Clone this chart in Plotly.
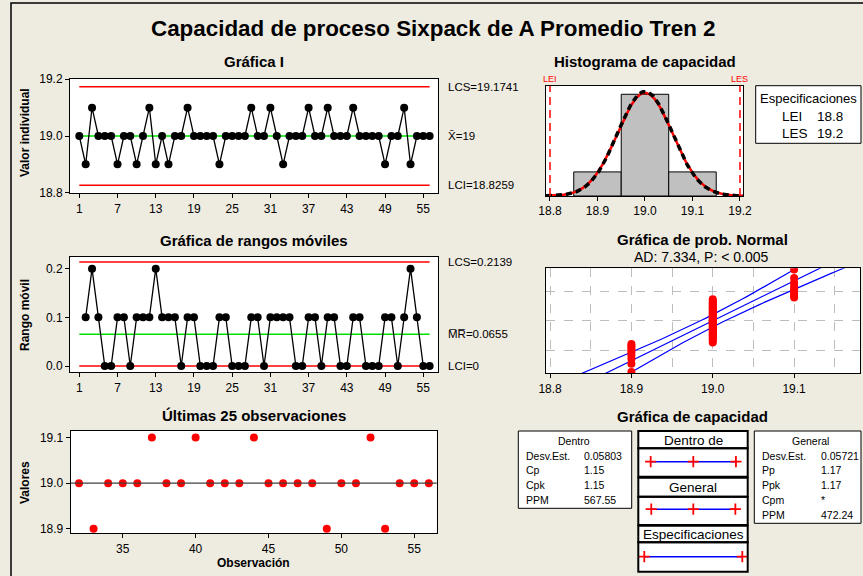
import numpy as np
import plotly.graph_objects as go
from statistics import NormalDist

W, H = 863, 576
FONT = "Liberation Sans, Arial, sans-serif"
BG = "#EEEBE0"

# ---------------- data ----------------
observation = list(range(1, 57))
values = [19.0, 18.9, 19.1, 19.0, 19.0, 19.0, 18.9, 19.0, 19.0, 18.9,
          19.0, 19.1, 18.9, 19.0, 18.9, 19.0, 19.0, 19.1, 19.0, 19.0,
          19.0, 19.0, 18.9, 19.0, 19.0, 19.0, 19.0, 19.1, 19.0, 19.0,
          19.1, 19.0, 18.9, 19.0, 19.0, 19.0, 19.1, 19.0, 19.0, 19.1,
          19.0, 19.0, 19.0, 19.1, 19.0, 19.0, 19.0, 19.0, 18.9, 19.0,
          19.0, 19.1, 18.9, 19.0, 19.0, 19.0]
LEI, LES = 18.8, 19.2
hist_bin_edges = [18.85, 18.95, 19.05, 19.15]
i_ticks = [1, 7, 13, 19, 25, 31, 37, 43, 49, 55]
i_yticks = [18.8, 19.0, 19.2]
mr_yticks = [0.0, 0.1, 0.2]
last_xticks = [35, 40, 45, 50, 55]
last_yticks = [18.9, 19.0, 19.1]
hist_ticks = [18.8, 18.9, 19.0, 19.1, 19.2]
prob_ticks = [18.8, 18.9, 19.0, 19.1]
prob_grid_pct = [0.1, 0.5, 0.9]
i_limit_labels = ["LCS=19.1741", "X\u0304=19", "LCI=18.8259"]
mr_limit_labels = ["LCS=0.2139", "M\u0305R\u0305=0.0655", "LCI=0"]
ad_text = "AD: 7.334, P: < 0.005"
within_labels = ["Desv.Est.", "Cp", "Cpk", "PPM"]
within_values = ["0.05803", "1.15", "1.15", "567.55"]
overall_labels = ["Desv.Est.", "Pp", "Ppk", "Cpm", "PPM"]
overall_values = ["0.05721", "1.17", "1.17", "*", "472.24"]

# ---------------- statistics ----------------
x = np.array(values)
n = len(x)
mean = x.mean()
mr = np.round(np.abs(np.diff(x)), 4)
mr_obs = observation[1:]
mr_bar = mr.mean()
sigma_w = mr_bar / 1.128379
sigma_o = x.std(ddof=1)
ucl = mean + 3 * sigma_w
lcl = mean - 3 * sigma_w
ucl_mr = 3.2665 * mr_bar
counts, edges = np.histogram(x, bins=hist_bin_edges)
centers = (edges[:-1] + edges[1:]) / 2
bw = edges[1] - edges[0]
nd = NormalDist()


def px_dom_x(a, b):
    return [a / W, b / W]


def px_dom_y(top, bottom):
    return [1 - bottom / H, 1 - top / H]


def ann(text, px, py, size, bold=False, xanchor="center", color="black", **kw):
    if bold:
        text = "<b>" + text + "</b>"
    d = dict(xref="paper", yref="paper", x=px / W, y=1 - py / H, text=text,
             showarrow=False, xanchor=xanchor, yanchor="middle",
             font=dict(family=FONT, size=size, color=color))
    d.update(kw)
    return d


def box_axis(dom, rng, **kw):
    d = dict(domain=dom, range=rng, showline=True, mirror=True, linecolor="black",
             linewidth=1, ticks="outside", ticklen=4, tickcolor="black", tickwidth=1,
             tickfont=dict(family=FONT, size=12, color="black"), zeroline=False,
             showgrid=False, fixedrange=True, automargin=False)
    d.update(kw)
    return d


fig = go.Figure()
BLACK = "black"
RED = "#FF0000"
GREEN = "#00E000"
BLUE = "#0000FF"

# ---------- I chart ----------
xl = [observation[0], observation[-1]]
fig.add_trace(go.Scatter(x=xl, y=[ucl, ucl], mode="lines", line=dict(color=RED, width=1.5), xaxis="x", yaxis="y"))
fig.add_trace(go.Scatter(x=xl, y=[lcl, lcl], mode="lines", line=dict(color=RED, width=1.5), xaxis="x", yaxis="y"))
fig.add_trace(go.Scatter(x=xl, y=[mean, mean], mode="lines", line=dict(color=GREEN, width=1.5), xaxis="x", yaxis="y"))
fig.add_trace(go.Scatter(x=observation, y=values, mode="lines+markers",
                         line=dict(color=BLACK, width=1.3), marker=dict(color=BLACK, size=8),
                         xaxis="x", yaxis="y"))

# ---------- MR chart ----------
fig.add_trace(go.Scatter(x=xl, y=[ucl_mr, ucl_mr], mode="lines", line=dict(color=RED, width=1.5), xaxis="x2", yaxis="y2"))
fig.add_trace(go.Scatter(x=xl, y=[0, 0], mode="lines", line=dict(color=RED, width=1.5), xaxis="x2", yaxis="y2"))
fig.add_trace(go.Scatter(x=xl, y=[mr_bar, mr_bar], mode="lines", line=dict(color=GREEN, width=1.5), xaxis="x2", yaxis="y2"))
fig.add_trace(go.Scatter(x=mr_obs, y=mr, mode="lines+markers",
                         line=dict(color=BLACK, width=1.3), marker=dict(color=BLACK, size=8),
                         xaxis="x2", yaxis="y2"))

# ---------- Last 25 ----------
fig.add_trace(go.Scatter(x=observation[-25:], y=values[-25:], mode="markers",
                         marker=dict(color=RED, size=8), xaxis="x3", yaxis="y3"))

# ---------- Histogram ----------
fig.add_trace(go.Bar(x=centers, y=counts, width=bw, marker=dict(color="#C0C0C0", line=dict(color=BLACK, width=1)),
                     xaxis="x4", yaxis="y4"))
hx_range = [18.7916, 19.207]
cx = np.linspace(hx_range[0], hx_range[1], 200)
pdf_w = np.array([NormalDist(mean, sigma_w).pdf(v) for v in cx]) * n * bw
pdf_o = np.array([NormalDist(mean, sigma_o).pdf(v) for v in cx]) * n * bw
fig.add_trace(go.Scatter(x=cx, y=pdf_w, mode="lines", line=dict(color=RED, width=2.5), xaxis="x4", yaxis="y4"))
fig.add_trace(go.Scatter(x=cx, y=pdf_o, mode="lines", line=dict(color=BLACK, width=3.5, dash="6px,4px"),
                         xaxis="x4", yaxis="y4"))

# ---------- Normal probability plot ----------
zr = [-2.3, 2.3]
xs = np.sort(x)
zs = [nd.inv_cdf((i - 0.3) / (n + 0.4)) for i in range(1, n + 1)]
zl = np.linspace(zr[0] - 0.2, zr[1] + 0.2, 60)
fit = mean + sigma_o * zl
half = 1.96 * sigma_o * np.sqrt(1 / n + zl ** 2 / (2 * (n - 1)))
for yy in (fit - half, fit, fit + half):
    fig.add_trace(go.Scatter(x=yy, y=zl, mode="lines", line=dict(color=BLUE, width=1.2), xaxis="x5", yaxis="y5"))
fig.add_trace(go.Scatter(x=xs, y=zs, mode="markers", marker=dict(color=RED, size=8), xaxis="x5", yaxis="y5"))

# ---------- Capability plot ----------
cross = dict(symbol="cross-thin-open", size=8, line=dict(color=RED, width=1.8), color=RED)
rows = [
    (2, [mean - 3 * sigma_w, mean, mean + 3 * sigma_w]),
    (1, [mean - 3 * sigma_o, mean, mean + 3 * sigma_o]),
    (0, [LEI, LES]),
]
for r, xv in rows:
    fig.add_trace(go.Scatter(x=xv, y=[r] * len(xv), mode="lines+markers", line=dict(color=BLUE, width=1.5),
                             marker=cross, xaxis="x6", yaxis="y6"))

# ---------------- layout ----------------
i_xrange = [-0.46, 57.36]
layout = dict(
    width=W, height=H, margin=dict(l=0, r=0, t=0, b=0, pad=0), autosize=False,
    paper_bgcolor=BG, plot_bgcolor="white", showlegend=False,
    font=dict(family=FONT, color="black"),
    xaxis=box_axis(px_dom_x(70, 438.3), i_xrange, tickvals=i_ticks, anchor="y"),
    yaxis=box_axis(px_dom_y(78.7, 193.3), [18.798, 19.202], tickvals=i_yticks, tickformat=".1f", anchor="x"),
    xaxis2=box_axis(px_dom_x(70, 438.3), i_xrange, tickvals=i_ticks, anchor="y2"),
    yaxis2=box_axis(px_dom_y(256.7, 372.3), [-0.0129, 0.2245], tickvals=mr_yticks, tickformat=".1f", anchor="x2"),
    xaxis3=box_axis(px_dom_x(70.7, 436.7), [31.43, 56.54], tickvals=last_xticks, anchor="y3"),
    yaxis3=box_axis(px_dom_y(430.7, 533.3), [18.89, 19.115], tickvals=last_yticks, tickformat=".1f", anchor="x3"),
    xaxis4=box_axis(px_dom_x(546, 743.3), hx_range, tickvals=hist_ticks, tickformat=".1f", anchor="y4"),
    yaxis4=box_axis(px_dom_y(85.7, 196), [0, 41.2], showticklabels=False, ticks="", anchor="x4"),
    xaxis5=box_axis(px_dom_x(546, 860), [18.795, 19.181], tickvals=prob_ticks, tickformat=".1f", anchor="y5",
                    showgrid=True, gridcolor="#BDBDBD", griddash="dash", gridwidth=1,
                    minor=dict(tick0=18.8, dtick=0.05, showgrid=True, gridcolor="#BDBDBD", griddash="dash", ticks="")),
    yaxis5=box_axis(px_dom_y(268.3, 373.3), zr, tickvals=[nd.inv_cdf(p) for p in prob_grid_pct],
                    showticklabels=False, ticks="", showgrid=True, gridcolor="#BDBDBD", griddash="dash",
                    anchor="x5"),
    xaxis6=dict(domain=px_dom_x(638.3, 747.7), range=[18.7755, 19.222], visible=False, anchor="y6",
                fixedrange=True, automargin=False),
    yaxis6=dict(domain=px_dom_y(431, 571.7), range=[-0.316, 2.646], visible=False, anchor="x6",
                fixedrange=True, automargin=False),
)

shapes = []
# outer frame
shapes.append(dict(type="rect", xref="paper", yref="paper", x0=11 / W, y0=-0.05, x1=1.05, y1=1 - 3 / H,
                   line=dict(color="black", width=1.5)))
# last-25 centre line
shapes.append(dict(type="line", xref="x3 domain", yref="y3", x0=0, x1=1, y0=mean, y1=mean,
                   line=dict(color="#404040", width=1.2)))
# spec limit lines on histogram
for s in (LEI, LES):
    shapes.append(dict(type="line", xref="x4", yref="y4 domain", x0=s, x1=s, y0=0, y1=1,
                       line=dict(color=RED, width=1.5, dash="8px,5px")))


def prect(x0, y0, x1, y1, lw=1, fill="white"):
    return dict(type="rect", xref="paper", yref="paper", x0=x0 / W, x1=x1 / W, y0=1 - y1 / H, y1=1 - y0 / H,
                line=dict(color="black", width=lw), fillcolor=fill, layer="below")


# spec box next to histogram
shapes.append(prect(755.7, 85.7, 861, 143.3))
# capability tables
shapes.append(prect(518.3, 431, 631.7, 508.3))
shapes.append(prect(754.3, 431, 861, 523.3))
for (a, b) in [(431, 448.3), (448.3, 476.7), (477.7, 496.7), (496.7, 525), (525.7, 542.3), (542.3, 571.7)]:
    r = prect(638.3, a, 747.7, b, lw=2)
    r["layer"] = "above"
    r["fillcolor"] = "rgba(0,0,0,0)"
    shapes.append(r)
layout["shapes"] = shapes

anns = []
anns.append(ann("Capacidad de proceso Sixpack de A Promedio Tren 2", 433.5, 29, 22.4, bold=True))
anns.append(ann("Gráfica I", 254, 61, 15, bold=True))
anns.append(ann("Gráfica de rangos móviles", 254, 240, 15, bold=True))
anns.append(ann("Últimas 25 observaciones", 254, 415, 15, bold=True))
anns.append(ann("Histograma de capacidad", 645, 61, 15, bold=True))
anns.append(ann("Gráfica de prob. Normal", 702, 239, 15, bold=True))
anns.append(ann(ad_text, 701, 257, 14))
anns.append(ann("Gráfica de capacidad", 692, 416, 15, bold=True))
# axis titles
anns.append(ann("Valor individual", 25, 133, 12, bold=True, textangle=-90))
anns.append(ann("Rango móvil", 25, 315, 12, bold=True, textangle=-90))
anns.append(ann("Valores", 25, 483, 12, bold=True, textangle=-90))
anns.append(ann("Observación", 253, 563, 12, bold=True))
# control limit labels
for lab, yv in zip(i_limit_labels, [ucl, mean, lcl]):
    anns.append(dict(xref="paper", yref="y", x=446 / W, y=yv, text=lab, showarrow=False, xanchor="left",
                     yanchor="middle", font=dict(family=FONT, size=11.5, color="black")))
for lab, yv in zip(mr_limit_labels, [ucl_mr, mr_bar, 0]):
    anns.append(dict(xref="paper", yref="y2", x=446 / W, y=yv, text=lab, showarrow=False, xanchor="left",
                     yanchor="middle", font=dict(family=FONT, size=11.5, color="black")))
# LEI / LES labels
for lab, s in (("LEI", LEI), ("LES", LES)):
    anns.append(dict(xref="x4", yref="paper", x=s, y=1 - 79 / H, text=lab, showarrow=False, xanchor="center",
                     yanchor="middle", font=dict(family=FONT, size=9, color=RED)))
# spec box
anns.append(ann("Especificaciones", 808, 98.5, 13))
anns.append(ann("LEI", 780, 116.7, 13.5, xanchor="left"))
anns.append(ann(f"{LEI:.1f}", 815, 116.7, 13.5, xanchor="left"))
anns.append(ann("LES", 780, 133.3, 13.5, xanchor="left"))
anns.append(ann(f"{LES:.1f}", 815, 133.3, 13.5, xanchor="left"))
# capability tables
anns.append(ann("Dentro", 574, 441, 10.5))
for k, (lab, val) in enumerate(zip(within_labels, within_values)):
    yy = 455.7 + k * 14.7
    anns.append(ann(lab, 524, yy, 10.5, xanchor="left"))
    anns.append(ann(val, 582, yy, 10.5, xanchor="left"))
anns.append(ann("General", 810, 441, 10.5))
for k, (lab, val) in enumerate(zip(overall_labels, overall_values)):
    yy = 455.7 + k * 14.7
    anns.append(ann(lab, 760, yy, 10.5, xanchor="left"))
    anns.append(ann(val, 819, yy, 10.5, xanchor="left"))
anns.append(ann("Dentro de", 693, 440, 13.5))
anns.append(ann("General", 693, 487.5, 13.5))
anns.append(ann("Especificaciones", 693, 534, 13.5))
layout["annotations"] = anns

fig.update_layout(**layout)
fig.write_html("out.html", config={"displayModeBar": False},
               post_script="document.body.style.margin='0px';")
